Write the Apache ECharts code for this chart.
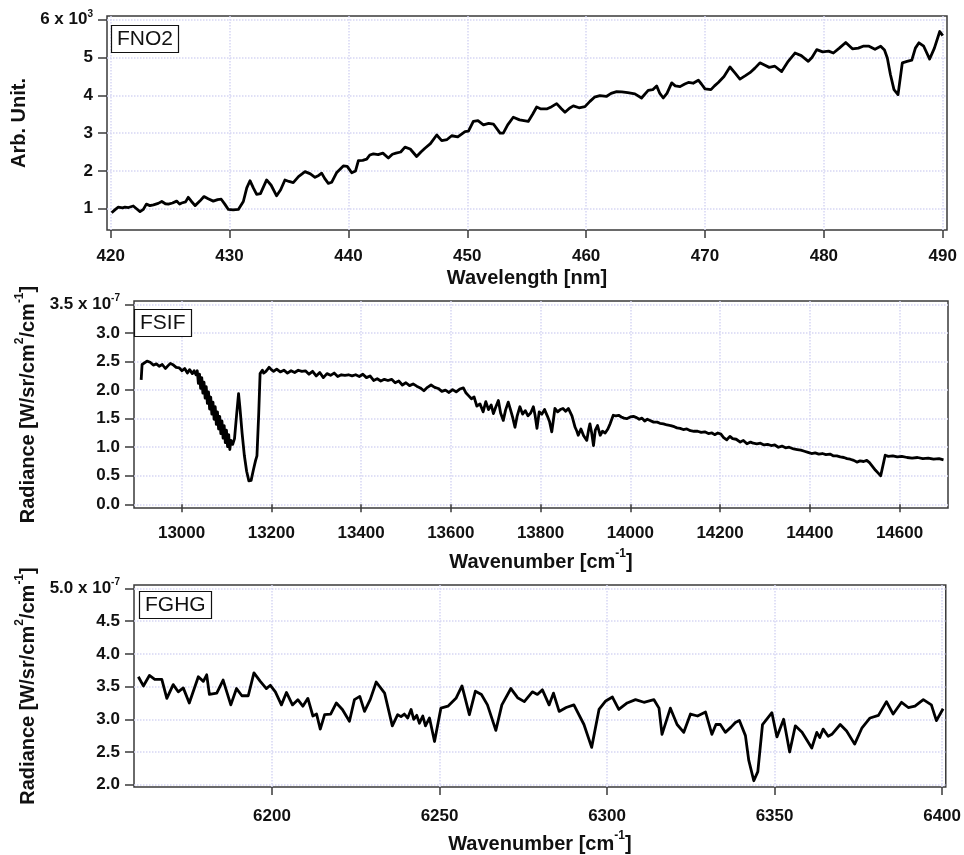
<!DOCTYPE html>
<html>
<head>
<meta charset="utf-8">
<title>FNO2 / FSIF / FGHG spectra</title>
<script src="https://cdn.jsdelivr.net/npm/echarts@6/dist/echarts.min.js"></script>
<style>
html, body { margin: 0; padding: 0; background: #fff; }
#chart { width: 964px; height: 855px; }
</style>
</head>
<body>
<div id="chart"></div>
<script>
// ---- data ----
// FNO2: wavelength [nm] vs arb. unit (x 10^3)
const no2Wl = [
  420.08, 420.4, 420.64, 421.0, 421.2, 421.5, 421.9, 422.2, 422.47, 422.75,
  423.0, 423.3, 423.6, 424.0, 424.3, 424.6, 424.85, 425.2, 425.55, 425.8,
  425.97, 426.3, 426.53, 426.8, 427.1, 427.5, 427.85, 428.2, 428.63, 429.0,
  429.3, 429.6, 429.9, 430.3, 430.74, 431.16, 431.45, 431.72, 432.0, 432.28,
  432.6, 433.12, 433.5, 433.96, 434.3, 434.66, 435.0, 435.36, 435.8, 436.35,
  436.8, 437.19, 437.5, 437.75, 438.0, 438.31, 438.6, 439.0, 439.57, 439.9,
  440.28, 440.6, 440.84, 441.2, 441.54, 441.8, 442.1, 442.5, 442.9, 443.36,
  443.7, 444.0, 444.4, 444.76, 445.2, 445.74, 446.1, 446.44, 446.9, 447.43,
  447.85, 448.3, 448.69, 449.2, 449.81, 450.1, 450.51, 450.9, 451.36, 451.8,
  452.2, 452.76, 453.03, 453.4, 453.87, 454.4, 455.13, 455.5, 455.84, 456.2,
  456.68, 457.1, 457.52, 457.9, 458.22, 458.6, 458.92, 459.4, 459.9, 460.32,
  460.7, 461.16, 461.7, 462.1, 462.57, 463.0, 463.5, 464.1, 464.66, 465.22,
  465.6, 465.93, 466.2, 466.49, 466.8, 467.2, 467.5, 467.9, 468.3, 468.6,
  469.0, 469.44, 469.7, 470.0, 470.5, 470.8, 471.12, 471.6, 472.1, 472.5,
  472.94, 473.4, 473.78, 474.2, 474.62, 475.0, 475.4, 475.88, 476.45, 477.0,
  477.57, 478.1, 478.69, 479.0, 479.4, 479.9, 480.4, 480.8, 481.3, 481.84,
  482.4, 482.9, 483.3, 483.8, 484.3, 484.78, 485.1, 485.34, 485.6, 485.9,
  486.24, 486.6, 487.0, 487.4, 487.7, 488.0, 488.4, 488.9, 489.3, 489.75, 490.0
]
const no2Val = [
  0.89, 0.98, 1.04, 1.02, 1.04, 1.03, 1.07, 0.99, 0.92, 0.98,
  1.12, 1.08, 1.10, 1.14, 1.19, 1.13, 1.12, 1.15, 1.20, 1.12,
  1.15, 1.18, 1.30, 1.19, 1.08, 1.20, 1.32, 1.26, 1.20, 1.24,
  1.25, 1.12, 0.98, 0.97, 0.98, 1.19, 1.55, 1.74, 1.55, 1.38,
  1.40, 1.76, 1.62, 1.34, 1.50, 1.76, 1.72, 1.69, 1.85, 1.98,
  1.92, 1.83, 1.88, 1.94, 1.80, 1.67, 1.70, 1.95, 2.13, 2.12,
  1.95, 2.00, 2.27, 2.28, 2.31, 2.42, 2.45, 2.43, 2.47, 2.34,
  2.44, 2.47, 2.50, 2.63, 2.58, 2.38, 2.50, 2.60, 2.72, 2.95,
  2.80, 2.83, 2.93, 2.90, 3.04, 3.05, 3.31, 3.33, 3.22, 3.26,
  3.24, 3.00, 3.00, 3.22, 3.42, 3.35, 3.31, 3.50, 3.69, 3.64,
  3.64, 3.70, 3.78, 3.65, 3.55, 3.66, 3.72, 3.67, 3.70, 3.84,
  3.95, 3.99, 3.97, 4.05, 4.10, 4.09, 4.07, 4.04, 3.93, 4.13,
  4.15, 4.25, 4.05, 3.93, 4.05, 4.33, 4.25, 4.23, 4.30, 4.34,
  4.32, 4.40, 4.30, 4.17, 4.15, 4.25, 4.34, 4.50, 4.75, 4.60,
  4.43, 4.52, 4.60, 4.72, 4.86, 4.80, 4.74, 4.77, 4.63, 4.90,
  5.12, 5.05, 4.90, 5.00, 5.21, 5.15, 5.17, 5.12, 5.25, 5.40,
  5.23, 5.25, 5.30, 5.30, 5.22, 5.30, 5.20, 4.99, 4.55, 4.15,
  4.02, 4.86, 4.90, 4.93, 5.25, 5.39, 5.30, 4.96, 5.25, 5.69, 5.58
]

// FSIF: wavenumber [cm-1] vs radiance (x 10^-7)
const sifWn = [
  12910, 12912, 12916, 12923, 12930, 12937, 12944, 12950, 12957, 12964,
  12970, 12975, 12982, 12988, 12995, 13001, 13007, 13013, 13018, 13024,
  13028, 13032,
  13035, 13037.5, 13040, 13042.5, 13045, 13047.5, 13050, 13052.5, 13055, 13057.5,
  13060, 13062.5, 13065, 13067.5, 13070, 13072.5, 13075, 13077.5, 13080, 13082.5,
  13085, 13087.5, 13090, 13092.5, 13095, 13097.5, 13100, 13102.5, 13105, 13107.5,
  13110,
  13114, 13118, 13123, 13127, 13130, 13135, 13140, 13145, 13150, 13155,
  13160, 13165, 13168, 13172, 13175, 13180, 13183, 13188, 13195, 13200,
  13205, 13212, 13220, 13228, 13236, 13244, 13252, 13260, 13268, 13276,
  13284, 13292, 13300, 13308, 13316, 13324, 13332, 13340, 13348, 13356,
  13364, 13372, 13380, 13388, 13396, 13404, 13412, 13420, 13428, 13436,
  13444, 13452, 13460, 13468, 13476, 13484, 13492, 13500, 13508, 13516,
  13524, 13532, 13540, 13548, 13556, 13564, 13572, 13580, 13588, 13596,
  13604, 13612, 13620, 13628, 13634, 13640, 13646, 13652,
  13658, 13665, 13672, 13678, 13684, 13690, 13695, 13700, 13706, 13711,
  13717, 13722, 13728, 13733, 13738, 13743, 13748, 13754, 13760, 13766,
  13772, 13778, 13784, 13788, 13792, 13797, 13803, 13809, 13815, 13820,
  13825, 13829, 13832, 13838, 13844, 13850, 13856, 13862, 13866, 13870,
  13877, 13881, 13884, 13890, 13896, 13903, 13907, 13910, 13914, 13918,
  13922, 13927, 13933, 13938, 13944, 13950, 13955, 13962, 13968, 13974,
  13980, 13986, 13992, 14000, 14007, 14014, 14020, 14026, 14032, 14038,
  14044, 14052, 14060, 14066, 14074, 14082, 14090, 14098, 14104, 14111,
  14118, 14126, 14134, 14142, 14150, 14158, 14166, 14174, 14182, 14188,
  14195, 14202, 14208, 14215, 14222, 14228, 14236, 14245, 14252, 14260,
  14268, 14274, 14282, 14290, 14298, 14306, 14314, 14322, 14330, 14338,
  14346, 14354, 14364, 14372, 14380, 14388, 14396, 14404, 14412, 14420,
  14428, 14436, 14445, 14452, 14460, 14468, 14476, 14483, 14490, 14498,
  14505, 14512, 14520, 14527, 14533, 14540, 14546, 14552, 14558, 14561,
  14565, 14568, 14575, 14585, 14595, 14605, 14617, 14628, 14640, 14652,
  14664, 14676, 14688, 14698
]
const sifVal = [
  2.18, 2.45, 2.47, 2.51, 2.49, 2.44, 2.46, 2.42, 2.45, 2.38,
  2.43, 2.47, 2.44, 2.40, 2.39, 2.34, 2.38, 2.30, 2.36, 2.29,
  2.34, 2.27,
  2.34, 2.12, 2.28, 2.03, 2.22, 1.95, 2.14, 1.86, 2.06, 1.77,
  1.97, 1.67, 1.88, 1.58, 1.79, 1.49, 1.71, 1.40, 1.62, 1.32,
  1.54, 1.24, 1.46, 1.16, 1.38, 1.08, 1.30, 1.01, 1.22, 0.96,
  1.12,
  1.05, 1.15, 1.60, 1.94, 1.70, 1.24, 0.85, 0.58, 0.41, 0.42,
  0.60, 0.77, 0.85, 1.60, 2.29, 2.35, 2.30, 2.33, 2.40, 2.36,
  2.33, 2.37, 2.32, 2.35, 2.30, 2.34, 2.31, 2.35, 2.33, 2.34,
  2.28, 2.33, 2.25, 2.31, 2.22, 2.29, 2.26, 2.30, 2.24, 2.27,
  2.26, 2.27, 2.25, 2.27, 2.24, 2.28, 2.22, 2.25, 2.17, 2.20,
  2.16, 2.19, 2.17, 2.19, 2.13, 2.16, 2.09, 2.13, 2.08, 2.11,
  2.07, 2.04, 1.99, 2.05, 2.09, 2.05, 2.03, 1.98, 2.00, 1.96,
  2.01, 1.97, 2.02, 2.04, 1.95, 1.90, 1.85, 1.88,
  1.72, 1.76, 1.62, 1.80, 1.66, 1.74, 1.59, 1.70, 1.82, 1.60,
  1.47, 1.65, 1.79, 1.66, 1.52, 1.35, 1.55, 1.71, 1.58, 1.64,
  1.55, 1.60, 1.71, 1.55, 1.33, 1.62, 1.58, 1.66, 1.55, 1.45,
  1.27, 1.50, 1.68, 1.62, 1.66, 1.68, 1.63, 1.68, 1.65, 1.55,
  1.35, 1.28, 1.21, 1.32, 1.20, 1.12, 1.30, 1.41, 1.25, 1.03,
  1.30, 1.38, 1.21, 1.28, 1.25, 1.32, 1.41, 1.56, 1.55, 1.56,
  1.53, 1.51, 1.50, 1.53, 1.54, 1.52, 1.49, 1.51, 1.46, 1.49,
  1.47, 1.44, 1.44, 1.42, 1.41, 1.39, 1.38, 1.36, 1.34, 1.33,
  1.31, 1.32, 1.29, 1.28, 1.28, 1.26, 1.27, 1.24, 1.25, 1.22,
  1.25, 1.23, 1.17, 1.13, 1.19, 1.15, 1.14, 1.09, 1.12, 1.06,
  1.09, 1.07, 1.06, 1.07, 1.04, 1.05, 1.03, 1.04, 1.00, 1.02,
  0.99, 1.00, 0.97, 0.96, 0.95, 0.93, 0.91, 0.89, 0.90, 0.88,
  0.89, 0.87, 0.88, 0.85, 0.85, 0.83, 0.82, 0.80, 0.79, 0.77,
  0.74, 0.76, 0.75, 0.77, 0.73, 0.66, 0.60, 0.55, 0.50, 0.49,
  0.75, 0.86, 0.84, 0.85, 0.83, 0.84, 0.82, 0.81, 0.82, 0.80,
  0.81, 0.79, 0.80, 0.78
]

// FGHG: wavenumber [cm-1] vs radiance (x 10^-7)
const ghgWn = [
  6160.1, 6161.6, 6163.4, 6165.0, 6167.1, 6168.6, 6170.5, 6172.0, 6173.5, 6175.3,
  6178.0, 6179.5, 6180.5, 6181.3, 6183.5, 6185.4, 6187.7, 6189.4, 6191.0, 6192.9,
  6194.6, 6196.5, 6198.3, 6199.5, 6201.0, 6202.8, 6204.3, 6206.1, 6207.7, 6209.2,
  6210.7, 6212.2, 6213.3, 6214.4, 6215.7, 6217.5, 6219.2, 6221.0, 6223.1, 6224.6,
  6226.2, 6227.6, 6229.3, 6231.1, 6233.6, 6235.9, 6237.5, 6238.5, 6239.5, 6240.5,
  6241.5, 6242.3, 6243.2, 6244.0, 6245.0, 6245.8, 6247.0, 6248.5, 6250.4, 6252.5,
  6254.9, 6256.7, 6258.9, 6260.7, 6262.5, 6264.3, 6266.8, 6268.6, 6271.3, 6273.3,
  6275.3, 6277.7, 6279.2, 6280.7, 6282.7, 6284.0, 6285.7, 6287.8, 6290.1, 6293.1,
  6295.4, 6297.6, 6299.6, 6301.6, 6303.5, 6306.0, 6308.5, 6311.0, 6314.0, 6315.5,
  6316.4, 6318.9, 6320.9, 6322.9, 6324.9, 6327.0, 6329.4, 6331.3, 6332.5, 6333.8,
  6335.3, 6337.0, 6338.3, 6339.5, 6341.3, 6342.3, 6343.8, 6345.0, 6346.4, 6349.2,
  6350.7, 6352.7, 6354.5, 6356.2, 6358.2, 6361.1, 6362.6, 6363.5, 6364.5, 6366.0,
  6367.1, 6369.6, 6371.5, 6373.9, 6376.1, 6378.5, 6381.0, 6383.4, 6385.4, 6387.9,
  6389.9, 6391.9, 6394.4, 6396.8, 6398.3, 6400.3
]
const ghgVal = [
  3.65, 3.51, 3.67, 3.61, 3.61, 3.32, 3.53, 3.42, 3.48, 3.25,
  3.65, 3.58, 3.68, 3.38, 3.40, 3.60, 3.22, 3.47, 3.36, 3.36,
  3.71, 3.58, 3.47, 3.52, 3.42, 3.22, 3.41, 3.22, 3.30, 3.20,
  3.32, 3.05, 3.08, 2.85, 3.07, 3.08, 3.25, 3.15, 2.97, 3.30,
  3.35, 3.12, 3.30, 3.57, 3.40, 2.90, 3.07, 3.04, 3.08, 3.02,
  3.15, 3.00, 3.06, 2.94, 3.05, 2.90, 3.02, 2.66, 3.17, 3.20,
  3.32, 3.51, 3.07, 3.43, 3.38, 3.22, 2.83, 3.22, 3.47, 3.33,
  3.27, 3.42, 3.38, 3.45, 3.22, 3.40, 3.12, 3.18, 3.22, 2.92,
  2.57, 3.15, 3.28, 3.34, 3.15, 3.25, 3.30, 3.26, 3.30, 3.17,
  2.77, 3.17, 2.92, 2.80, 3.08, 3.05, 3.11, 2.77, 2.92, 2.92,
  2.80, 2.88, 2.95, 2.98, 2.75, 2.37, 2.06, 2.20, 2.92, 3.10,
  2.73, 3.00, 2.50, 2.90, 2.80, 2.56, 2.80, 2.72, 2.85, 2.74,
  2.77, 2.92, 2.82, 2.62, 2.87, 3.02, 3.06, 3.27, 3.08, 3.26,
  3.18, 3.20, 3.30, 3.22, 2.98, 3.16
]

// tick values
const no2XTicks = [420, 430, 440, 450, 460, 470, 480, 490]
const no2YTicks = [1, 2, 3, 4, 5, 6]
const sifXTicks = [13000, 13200, 13400, 13600, 13800, 14000, 14200, 14400, 14600]
const sifYTicks = [0, 0.5, 1, 1.5, 2, 2.5, 3, 3.5]
const ghgXTicks = [6200, 6250, 6300, 6350, 6400]
const ghgYTicks = [2, 2.5, 3, 3.5, 4, 4.5, 5]

// ---- chart ----
const FONT = '"Liberation Sans", Arial, Helvetica, sans-serif'
const gridColor = '#d6d6f4'
const frameColor = '#3a3a3a'

const labelRich = {
  n: { fontSize: 17, fontWeight: 'bold', fontFamily: FONT, color: '#111', lineHeight: 22 },
  s: { fontSize: 10, fontWeight: 'bold', fontFamily: FONT, color: '#111', verticalAlign: 'top', lineHeight: 10 }
}
const nameRich = {
  t: { fontSize: 20, fontWeight: 'bold', fontFamily: FONT, color: '#111', lineHeight: 28 },
  s: { fontSize: 12, fontWeight: 'bold', fontFamily: FONT, color: '#111', verticalAlign: 'top', lineHeight: 12 }
}

function pairs(xs, ys) {
  return xs.map((x, i) => [x, ys[i]])
}

function makeX(gridIndex, min, max, ticks, name, nameGap, margin) {
  return {
    type: 'value',
    gridIndex,
    min,
    max,
    name,
    nameLocation: 'middle',
    nameGap,
    nameTextStyle: { rich: nameRich },
    axisLine: { show: false },
    axisTick: {
      show: true, inside: false, length: 8, customValues: ticks,
      lineStyle: { color: frameColor, width: 1.5 }
    },
    axisLabel: {
      customValues: ticks, margin,
      formatter: v => '{n|' + v + '}',
      rich: labelRich
    },
    splitLine: { show: true, lineStyle: { color: gridColor, type: 'dotted', width: 1.5 } }
  }
}

function makeY(gridIndex, min, max, ticks, digits, expo, name, nameGap) {
  const top = ticks[ticks.length - 1]
  return {
    type: 'value',
    gridIndex,
    min,
    max,
    name,
    nameLocation: 'middle',
    nameRotate: 90,
    nameGap,
    nameTextStyle: { rich: nameRich },
    axisLine: { show: false },
    axisTick: {
      show: true, inside: false, length: 9, customValues: ticks,
      lineStyle: { color: frameColor, width: 1.5 }
    },
    axisLabel: {
      customValues: ticks, margin: 14,
      formatter: v => {
        const txt = v.toFixed(digits)
        if (Math.abs(v - top) < 1e-9) return '{n|' + txt + ' x 10}{s|' + expo + '}'
        return '{n|' + txt + '}'
      },
      rich: labelRich
    },
    splitLine: { show: true, lineStyle: { color: gridColor, type: 'dotted', width: 1.5 } }
  }
}

function boxTitle(text, left, top) {
  return {
    text, left, top,
    padding: [4, 6, 3, 6],
    borderWidth: 1.2,
    borderColor: '#111',
    backgroundColor: '#fff',
    textStyle: { fontSize: 21, fontWeight: 'normal', fontFamily: FONT, color: '#111' }
  }
}

const chart = echarts.init(document.getElementById('chart'))
const lineStyle = { color: '#000', width: 2.8, join: 'round' }

const option = {
  animation: false,
  backgroundColor: '#fff',
  title: [
    boxTitle('FNO2', 111, 25),
    boxTitle('FSIF', 134, 309),
    boxTitle('FGHG', 139, 591)
  ],
  grid: [
    { left: 107, top: 16, width: 840, height: 214, show: true, borderColor: frameColor, borderWidth: 1.5 },
    { left: 134, top: 301, width: 814, height: 207, show: true, borderColor: frameColor, borderWidth: 1.5 },
    { left: 134, top: 585, width: 814, height: 206, show: true, borderColor: frameColor, borderWidth: 1.5 }
  ],
  xAxis: [
    makeX(0, 419.69, 490.36, no2XTicks, '{t|Wavelength [nm]}', 34, 15),
    makeX(1, 12894, 14708, sifXTicks, '{t|Wavenumber [cm}{s|-1}{t|]}', 40, 14),
    makeX(2, 6158.8, 6401.1, ghgXTicks, '{t|Wavenumber [cm}{s|-1}{t|]}', 43, 18)
  ],
  yAxis: [
    makeY(0, 0.435, 6.1, no2YTicks, 0, '3', '{t|Arb. Unit.}', 72),
    makeY(1, -0.065, 3.563, sifYTicks, 1, '-7', '{t|Radiance [W/sr/cm}{s|2}{t|/cm}{s|-1}{t|]}', 92),
    makeY(2, 1.964, 5.054, ghgYTicks, 1, '-7', '{t|Radiance [W/sr/cm}{s|2}{t|/cm}{s|-1}{t|]}', 92)
  ],
  series: [
    { type: 'line', xAxisIndex: 0, yAxisIndex: 0, data: pairs(no2Wl, no2Val), showSymbol: false, symbol: 'none', lineStyle },
    { type: 'line', xAxisIndex: 1, yAxisIndex: 1, data: pairs(sifWn, sifVal), showSymbol: false, symbol: 'none', lineStyle },
    { type: 'line', xAxisIndex: 2, yAxisIndex: 2, data: pairs(ghgWn, ghgVal), showSymbol: false, symbol: 'none', lineStyle }
  ]
}

chart.setOption(option)
</script>
</body>
</html>
